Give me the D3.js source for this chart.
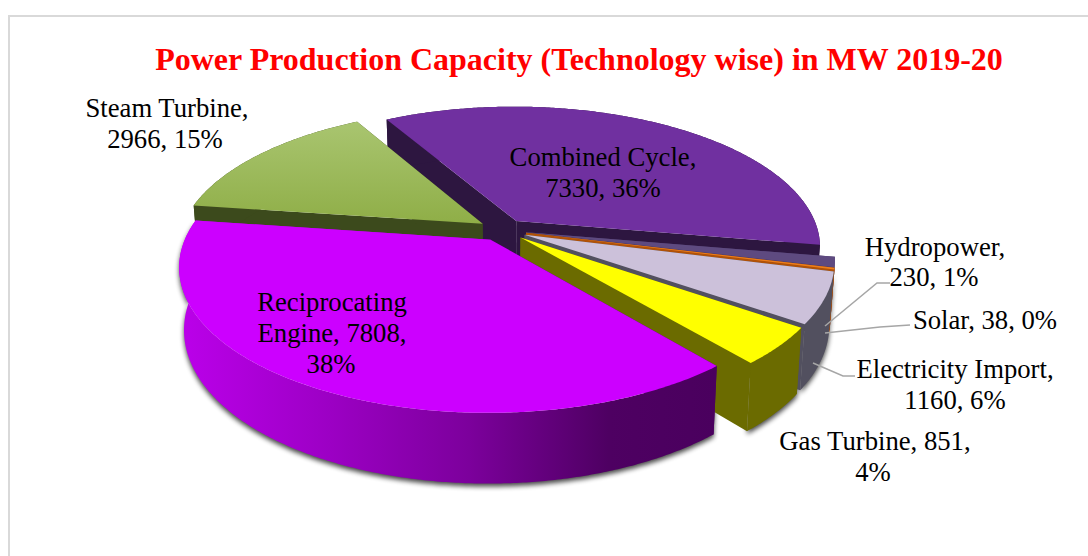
<!DOCTYPE html>
<html><head><meta charset="utf-8">
<script src="https://cdn.jsdelivr.net/npm/d3@7"></script>
<style>html,body{margin:0;padding:0;background:#fff}svg{display:block}text{font-family:"Liberation Serif","Times New Roman",serif}</style>
</head><body><svg id="c" width="1088" height="556"></svg>
<script>
const categories=["Steam Turbine","Combined Cycle","Hydropower","Solar","Electricity Import","Gas Turbine","Reciprocating Engine"];
const values=[2966,7330,230,38,1160,851,7808];
const percents=[15,36,1,0,6,4,38];
const topColors=["url(#steamTop)","#7030A0","#5E4A80","#ED7D1A","#CCC1DA","#FFFF00","#CC00FF"];
const wallColors=["#3C4A1C","#2D1640","#4A3A66","#B05208","#52505F","#6B6B00","url(#recipWall)"];
const paintOrder=[1,2,3,4,0,5,6];
const shadowed=[3,4,5,6];

const cx=502.5,cy=230,rb=302,ra=138,k=0.18,explode=0.08,inward=0.985,d0=60,d1=10;
const rad=d=>d*Math.PI/180;
const svg=d3.select("#c");
const defs=svg.append("defs");
const g1=defs.append("linearGradient").attr("id","steamTop").attr("x1",0).attr("y1",0).attr("x2",0).attr("y2",1);
g1.append("stop").attr("offset",0).attr("stop-color","#A9C570");
g1.append("stop").attr("offset",1).attr("stop-color","#8FAE47");
const g2=defs.append("linearGradient").attr("id","recipWall").attr("gradientUnits","userSpaceOnUse").attr("x1",180).attr("y1",0).attr("x2",716).attr("y2",0);
[[0,"#BB00EA"],[0.28,"#9C00C4"],[0.54,"#7C009C"],[0.8,"#4E0062"],[1,"#4A005E"]].forEach(s=>g2.append("stop").attr("offset",s[0]).attr("stop-color",s[1]));
const f=defs.append("filter").attr("id","sh").attr("x","-10%").attr("y","-20%").attr("width","120%").attr("height","140%");
f.append("feGaussianBlur").attr("stdDeviation",2.6);

svg.append("path").attr("d","M9,556V16H1088").attr("fill","none").attr("stroke","#D9D9D9").attr("stroke-width",2);

const arcs=d3.pie().sort(null).value(d=>d).startAngle(rad(-82)).endAngle(rad(278))(values);
function ptTop(u,v){const w=1-k*v;return [cx+rb*u/w,cy+ra*v/w];}
function ptBot(u,v){const p=ptTop(u,v);return [cx+(p[0]-cx)*inward,p[1]+d0+d1*v];}
const line=d3.line();
function slice(a){
  const mid=(a.startAngle+a.endAngle)/2,ou=explode*Math.sin(mid),ov=-explode*Math.cos(mid);
  const n=Math.max(2,Math.ceil((a.endAngle-a.startAngle)/rad(0.5)));
  const ring=d3.range(n+1).map(i=>{const t=a.startAngle+(a.endAngle-a.startAngle)*i/n;return [ou+Math.sin(t),ov-Math.cos(t)];});
  return {c:[ou,ov],ring};
}
const shadow=svg.append("g").attr("filter","url(#sh)").attr("transform","translate(0,3)").attr("opacity",0.72);
shadowed.forEach(i=>{
  const s=slice(arcs[i]);
  const T=s.ring.map(p=>ptTop(...p)),B=s.ring.map(p=>ptBot(...p));
  shadow.append("path").attr("d",line(T.concat(B.slice().reverse()))+"Z").attr("fill","#000");
});
const pie=svg.append("g");
paintOrder.forEach(i=>{
  const s=slice(arcs[i]),g=pie.append("g");
  const T=s.ring.map(p=>ptTop(...p)),B=s.ring.map(p=>ptBot(...p));
  const ct=ptTop(...s.c),cb=ptBot(...s.c);
  const wall=wallColors[i];
  g.append("path").attr("d",line([ct,T[0],B[0],cb])+"Z").attr("fill",i===6?"#4A005E":wall);
  g.append("path").attr("d",line([ct,T[T.length-1],B[B.length-1],cb])+"Z").attr("fill",i===6?"#BB00EA":wall);
  g.append("path").attr("d",line(T.concat(B.slice().reverse()))+"Z").attr("fill",wall);
  g.append("path").attr("d",line([ct].concat(T))+"Z").attr("fill",topColors[i]);
});

const leaders=[[[825,326],[877,283],[890,283]],[[825,333],[880,327],[910,325]],[[813,363],[843,376],[855,376]]];
svg.append("g").selectAll("path").data(leaders).join("path").attr("d",d=>line(d)).attr("fill","none").attr("stroke","#A6A6A6").attr("stroke-width",1.5);

const labels=[
 [0,`${categories[0]},`,167,117],[0,`${values[0]}, ${percents[0]}%`,165,148],
 [1,`${categories[1]},`,603,166],[1,`${values[1]}, ${percents[1]}%`,603,197],
 [6,"Reciprocating",332,311],[6,`Engine, ${values[6]},`,332,342],[6,`${percents[6]}%`,331,373],
 [2,`${categories[2]},`,935,256],[2,`${values[2]}, ${percents[2]}%`,934,286],
 [3,`${categories[3]}, ${values[3]}, ${percents[3]}%`,985,329],
 [4,`${categories[4]},`,955,378],[4,`${values[4]}, ${percents[4]}%`,955,409],
 [5,`${categories[5]}, ${values[5]},`,875,450],[5,`${percents[5]}%`,873,481]
];
svg.append("g").selectAll("text").data(labels).join("text")
 .attr("x",d=>d[2]).attr("y",d=>d[3]).attr("text-anchor","middle").attr("font-size",26.7).attr("fill","#000").text(d=>d[1]);
svg.append("text").attr("x",579).attr("y",70).attr("text-anchor","middle").attr("font-size",32).attr("font-weight","bold").attr("fill","#FF0000")
 .text("Power Production Capacity (Technology wise) in MW 2019-20");
</script></body></html>
